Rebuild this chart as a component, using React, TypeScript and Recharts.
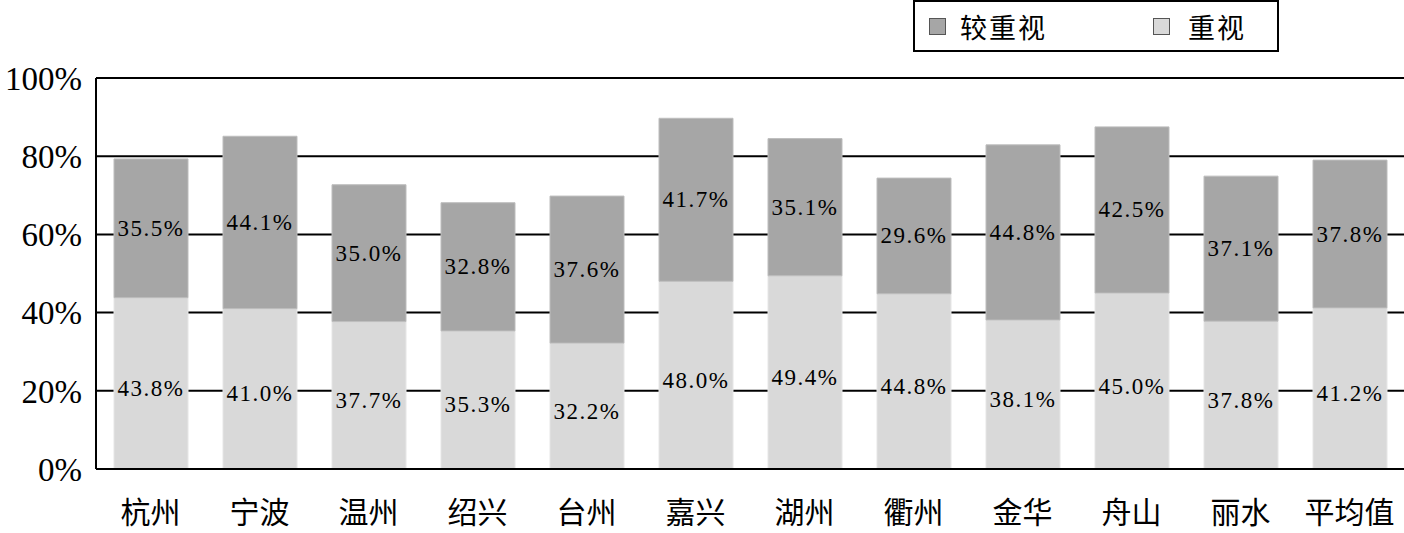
import React from "react";
import { BarChart, Bar, XAxis, YAxis, CartesianGrid, LabelList } from "recharts";

const cities = ["杭州", "宁波", "温州", "绍兴", "台州", "嘉兴", "湖州", "衢州", "金华", "舟山", "丽水", "平均值"];
const important = [43.8, 41.0, 37.7, 35.3, 32.2, 48.0, 49.4, 44.8, 38.1, 45.0, 37.8, 41.2];
const fairlyImportant = [35.5, 44.1, 35.0, 32.8, 37.6, 41.7, 35.1, 29.6, 44.8, 42.5, 37.1, 37.8];
const yTicks = [0, 20, 40, 60, 80, 100];
const seriesNames = { fairly: "较重视", important: "重视" };

const data = cities.map((c, i) => ({ city: c, important: important[i], fairly: fairlyImportant[i] }));

const DARK = "#a6a6a6";
const LIGHT = "#d9d9d9";
const SERIF = "'Liberation Serif', 'Times New Roman', serif";
const CJK = "'Noto Sans CJK SC', sans-serif";

const LegendBox = () => (
  <div
    style={{
      position: "absolute",
      left: 913,
      top: 0,
      width: 362,
      height: 48,
      border: "2px solid #000",
      background: "#fff",
      display: "flex",
      alignItems: "center",
      fontFamily: CJK,
      fontSize: 27,
      color: "#000",
      boxSizing: "content-box",
      zIndex: 2,
    }}
  >
    <span style={{ display: "inline-block", width: 15, height: 15, background: DARK, border: "1.5px solid #555", marginLeft: 14 }} />
    <span style={{ marginLeft: 14, letterSpacing: 2 }}>{seriesNames.fairly}</span>
    <span style={{ display: "inline-block", width: 15, height: 15, background: LIGHT, border: "1.5px solid #555", marginLeft: 106 }} />
    <span style={{ marginLeft: 18, letterSpacing: 2 }}>{seriesNames.important}</span>
  </div>
);

const makeLabel = (dy: number) => (props: any) => {
  const { x, y, width, height, value } = props;
  return (
    <text
      x={Number(x) + Number(width) / 2}
      y={Number(y) + Number(height) / 2 + dy}
      textAnchor="middle"
      dominantBaseline="central"
      fill="#000"
      fontFamily={SERIF}
      fontSize={23}
      letterSpacing={1.5}
    >
      {`${Number(value).toFixed(1)}%`}
    </text>
  );
};

export default function App() {
  return (
    <div style={{ position: "absolute", left: 0, top: 0, width: 1404, height: 533, background: "#fff" }}>
      <LegendBox />
      <BarChart
        width={1404}
        height={533}
        data={data}
        margin={{ top: 78, right: 0, bottom: 0, left: 0 }}
        barSize={74}
      >
        <CartesianGrid vertical={false} stroke="#000" strokeWidth={2} />
        <XAxis
          dataKey="city"
          height={64}
          axisLine={{ stroke: "#000", strokeWidth: 2 }}
          tickLine={false}
          tickSize={0}
          tickMargin={33}
          interval={0}
          tick={{ fill: "#000", fontSize: 30, fontFamily: CJK }}
        />
        <YAxis
          width={96}
          domain={[0, 100]}
          ticks={yTicks}
          tickFormatter={(v: number) => `${v}%`}
          axisLine={{ stroke: "#000", strokeWidth: 2 }}
          tickLine={false}
          tickSize={0}
          tickMargin={14}
          tick={{ fill: "#000", fontSize: 33, fontFamily: SERIF }}
        />
        <Bar dataKey="important" stackId="a" fill={LIGHT} stroke="#e6e6e6" strokeWidth={1} isAnimationActive={false} name={seriesNames.important}>
          <LabelList dataKey="important" content={makeLabel(5)} />
        </Bar>
        <Bar dataKey="fairly" stackId="a" fill={DARK} stroke="#bdbdbd" strokeWidth={1} isAnimationActive={false} name={seriesNames.fairly}>
          <LabelList dataKey="fairly" content={makeLabel(0)} />
        </Bar>
      </BarChart>
    </div>
  );
}
